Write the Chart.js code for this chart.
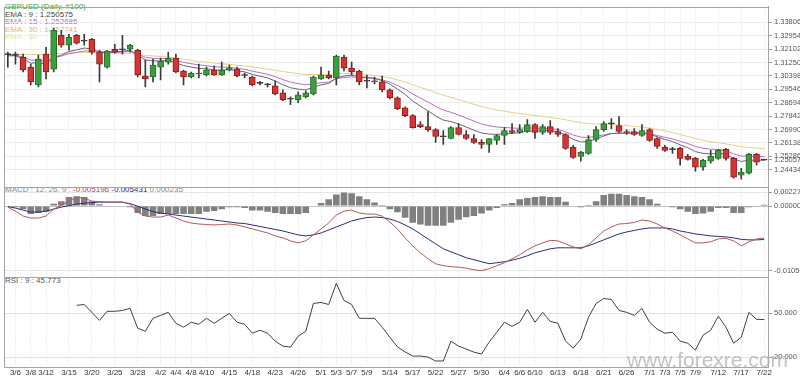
<!DOCTYPE html>
<html>
<head>
<meta charset="utf-8">
<script src="https://cdn.jsdelivr.net/npm/chart.js@4.4.0/dist/chart.umd.min.js"></script>
<style>
  html, body { margin: 0; padding: 0; background: #fff; }
  #wrap { position: relative; width: 800px; height: 378px; overflow: hidden; font-family: "Liberation Sans", Arial, sans-serif; }
  #chart { position: absolute; left: 0; top: 0; z-index: 1; }
  .legend { position: absolute; left: 5px; z-index: 0; font-size: 8px; line-height: 7.6px; white-space: nowrap; }
  .watermark { position: absolute; left: 627px; top: 349px; z-index: 2; font-size: 21px; line-height: 21px; color: rgba(175,175,175,0.75); font-family: "Liberation Sans", Arial, sans-serif; }
</style>
</head>
<body>
<div id="wrap">
  <div class="legend" style="top:3px">
    <div style="color:#3f9d3f">GBPUSD (Daily, #100)</div>
    <div style="color:#444">EMA : 9 : 1.250575</div>
    <div style="color:#b465c9">EMA : 15 : 1.252686</div>
    <div style="color:#e2b46e">EMA : 30 : 1.257741</div>
    <div style="color:#ece3a2">EMA : 30</div>
  </div>
  <div class="legend" style="top:186px; color:#888">MACD : 12, 26, 9 : <span style="color:#b04848">-0.005196</span> <span style="color:#2a2a70">-0.005431</span> 0.000235</div>
  <div class="legend" style="top:277px; color:#555">RSI : 9 : 45.773</div>
  <canvas id="chart" width="800" height="378"></canvas>
  <div class="watermark">www.forexre.com</div>
</div>
<script>
const days = [
  "3/5","3/6","3/7","3/8","3/11","3/12","3/13","3/14","3/15","3/18","3/19","3/20","3/21","3/22","3/25","3/26","3/27","3/28","3/29",
  "4/1","4/2","4/3","4/4","4/5","4/8","4/9","4/10","4/11","4/12","4/15","4/16","4/17","4/18","4/19","4/22","4/23","4/24","4/25","4/26","4/29","4/30",
  "5/1","5/2","5/3","5/6","5/7","5/8","5/9","5/10","5/13","5/14","5/15","5/16","5/17","5/20","5/21","5/22","5/23","5/24","5/27","5/28","5/29","5/30","5/31",
  "6/3","6/4","6/5","6/6","6/7","6/10","6/11","6/12","6/13","6/14","6/17","6/18","6/19","6/20","6/21","6/24","6/25","6/26","6/27","6/28",
  "7/1","7/2","7/3","7/4","7/5","7/8","7/9","7/10","7/11","7/12","7/15","7/16","7/17","7/18","7/19","7/22"
];
const shownDays = ["3/6","3/8","3/12","3/15","3/20","3/25","3/28","4/2","4/4","4/8","4/10","4/15","4/18","4/23","4/26",
  "5/1","5/3","5/7","5/9","5/14","5/17","5/22","5/27","5/30","6/4","6/6","6/10","6/13","6/18","6/21","6/26",
  "7/1","7/3","7/5","7/9","7/12","7/17","7/22"];

const open = [
  1.31787,1.31724,1.31598,1.30967,1.29831,1.31787,1.30840,1.32986,1.32355,1.32986,
  1.32607,1.32733,1.31913,1.30967,1.32102,1.32071,1.32102,1.32039,1.30399,1.30336,
  1.30967,1.31282,1.31534,1.30714,1.30336,1.30588,1.30462,1.30777,1.30462,1.30777,
  1.30840,1.30462,1.30336,1.29925,1.29862,1.29768,1.29326,1.28947,1.28884,1.29074,
  1.29263,1.30209,1.30462,1.30272,1.31598,1.30903,1.30714,1.30083,1.30083,1.30020,
  1.29515,1.29010,1.28379,1.27875,1.27307,1.27181,1.26991,1.26550,1.26423,1.27117,
  1.26676,1.26423,1.26171,1.26045,1.26297,1.26613,1.26928,1.26802,1.26865,1.27307,
  1.26802,1.27181,1.26865,1.26676,1.25855,1.25288,1.25477,1.26360,1.26991,1.27370,
  1.27244,1.26865,1.26865,1.26613,1.26991,1.26423,1.25855,1.25729,1.25792,1.25288,
  1.25161,1.24593,1.24972,1.25161,1.25729,1.25161,1.24089,1.24215,1.25414,1.25050
];
const high = [
  1.31913,1.31913,1.31787,1.31156,1.31724,1.32229,1.33427,1.33301,1.33049,1.33049,
  1.33049,1.32796,1.32039,1.32039,1.32418,1.32986,1.32418,1.32102,1.31408,1.31471,
  1.31534,1.31913,1.31787,1.30777,1.30651,1.31156,1.30967,1.31030,1.31282,1.31093,
  1.30967,1.30588,1.30399,1.30052,1.29925,1.30083,1.29515,1.29074,1.29389,1.29452,
  1.30399,1.30967,1.30714,1.31724,1.31724,1.31282,1.30777,1.30462,1.30336,1.30399,
  1.29578,1.29074,1.28443,1.27938,1.27496,1.28127,1.27054,1.26928,1.27181,1.27370,
  1.26928,1.26676,1.26360,1.26423,1.26676,1.27117,1.27370,1.27307,1.27622,1.27370,
  1.27307,1.27559,1.27054,1.26739,1.25982,1.25603,1.26613,1.27181,1.27496,1.27685,
  1.27812,1.26991,1.27054,1.27307,1.27054,1.26486,1.25982,1.25855,1.25855,1.25414,
  1.25224,1.25098,1.25666,1.25729,1.25792,1.25224,1.24530,1.25477,1.25477,1.25080
];
const low = [
  1.30967,1.31156,1.30651,1.29831,1.29705,1.30209,1.30651,1.32229,1.32039,1.32418,
  1.32355,1.31787,1.30020,1.30903,1.31850,1.31787,1.31913,1.30336,1.29705,1.30020,
  1.30146,1.31156,1.30588,1.29831,1.30272,1.30272,1.30399,1.30430,1.30430,1.30714,
  1.30336,1.30272,1.29768,1.29831,1.29705,1.29200,1.28821,1.28569,1.28695,1.29010,
  1.29200,1.30178,1.30209,1.29831,1.30714,1.30462,1.29831,1.29641,1.29894,1.29389,
  1.28947,1.28253,1.27812,1.27086,1.27117,1.26865,1.26171,1.26045,1.26392,1.26644,
  1.26360,1.26108,1.25792,1.25540,1.26045,1.26045,1.26739,1.26739,1.26802,1.26423,
  1.26676,1.26676,1.26550,1.25729,1.25161,1.24972,1.25414,1.26234,1.26865,1.27054,
  1.26802,1.26676,1.26613,1.26550,1.26234,1.25792,1.25603,1.25477,1.24720,1.25035,
  1.24341,1.24404,1.24846,1.25098,1.25035,1.23899,1.23836,1.24152,1.24720,1.25035
];
const close = [
  1.31755,1.31730,1.30777,1.30020,1.31471,1.30651,1.33301,1.32355,1.32860,1.32481,
  1.32639,1.31913,1.31156,1.31976,1.31913,1.32102,1.32355,1.30462,1.30209,1.31093,
  1.31345,1.31534,1.30651,1.30336,1.30588,1.30525,1.30777,1.30462,1.30777,1.30903,
  1.30399,1.30430,1.29831,1.29957,1.29831,1.29263,1.28884,1.28916,1.29200,1.29326,
  1.30336,1.30462,1.30272,1.31661,1.30903,1.30651,1.30020,1.30064,1.30020,1.29515,
  1.29010,1.28316,1.27875,1.27117,1.27181,1.26991,1.26550,1.26531,1.27117,1.26676,
  1.26423,1.26171,1.26045,1.26423,1.26613,1.26928,1.26802,1.26991,1.27307,1.26802,
  1.27181,1.26802,1.26676,1.25792,1.25224,1.25540,1.26360,1.26991,1.27370,1.27351,
  1.26865,1.26802,1.26676,1.26928,1.26297,1.25919,1.25666,1.25710,1.25161,1.25098,
  1.24593,1.25035,1.25288,1.25666,1.25161,1.23962,1.24278,1.25414,1.24909,1.25058
];

const ema9 = [
  1.31680,1.31688,1.31506,1.31209,1.31261,1.31139,1.31572,1.31728,1.31955,1.32060,
  1.32176,1.32123,1.31929,1.31939,1.31934,1.31967,1.32045,1.31728,1.31425,1.31358,
  1.31356,1.31392,1.31244,1.31062,1.30967,1.30879,1.30859,1.30779,1.30778,1.30804,
  1.30723,1.30664,1.30498,1.30390,1.30278,1.30075,1.29837,1.29653,1.29562,1.29515,
  1.29679,1.29835,1.29923,1.30271,1.30397,1.30448,1.30362,1.30303,1.30246,1.30100,
  1.29882,1.29569,1.29230,1.28807,1.28482,1.28184,1.27857,1.27592,1.27497,1.27333,
  1.27152,1.26955,1.26773,1.26703,1.26685,1.26733,1.26747,1.26796,1.26898,1.26879,
  1.26940,1.26912,1.26864,1.26650,1.26365,1.26200,1.26232,1.26384,1.26581,1.26735,
  1.26761,1.26769,1.26750,1.26786,1.26688,1.26534,1.26360,1.26230,1.26016,1.25833,
  1.25585,1.25475,1.25438,1.25483,1.25419,1.25127,1.24958,1.25049,1.25021,1.250575
];
const ema15 = [
  1.31727,1.31727,1.31608,1.31409,1.31417,1.31321,1.31568,1.31667,1.31816,1.31899,
  1.31992,1.31982,1.31878,1.31890,1.31893,1.31919,1.31974,1.31784,1.31587,1.31526,
  1.31503,1.31507,1.31400,1.31267,1.31182,1.31100,1.31059,1.30985,1.30959,1.30952,
  1.30883,1.30826,1.30702,1.30608,1.30511,1.30355,1.30171,1.30014,1.29913,1.29840,
  1.29901,1.29971,1.30009,1.30216,1.30301,1.30345,1.30305,1.30275,1.30243,1.30152,
  1.30009,1.29798,1.29558,1.29253,1.28993,1.28743,1.28469,1.28227,1.28088,1.27911,
  1.27725,1.27531,1.27345,1.27230,1.27153,1.27124,1.27084,1.27073,1.27102,1.27064,
  1.27079,1.27044,1.26998,1.26847,1.26645,1.26507,1.26488,1.26551,1.26654,1.26741,
  1.26757,1.26762,1.26751,1.26774,1.26714,1.26615,1.26496,1.26397,1.26243,1.26100,
  1.25912,1.25802,1.25737,1.25729,1.25658,1.25446,1.25300,1.25314,1.25264,1.252686
];
const ema30 = [
  1.31755,1.31768,1.31774,1.31768,1.31768,1.31774,1.31812,1.31837,1.31863,1.31881,
  1.31894,1.31894,1.31875,1.31869,1.31863,1.31850,1.31831,1.31774,1.31717,1.31673,
  1.31635,1.31598,1.31535,1.31459,1.31389,1.31326,1.31269,1.31219,1.31175,1.31137,
  1.31086,1.31042,1.30979,1.30910,1.30840,1.30765,1.30683,1.30607,1.30544,1.30493,
  1.30487,1.30487,1.30487,1.30537,1.30556,1.30556,1.30512,1.30468,1.30424,1.30361,
  1.30272,1.30152,1.30020,1.29843,1.29673,1.29515,1.29345,1.29174,1.29042,1.28897,
  1.28752,1.28600,1.28455,1.28335,1.28234,1.28152,1.28077,1.28007,1.27950,1.27881,
  1.27824,1.27755,1.27698,1.27616,1.27515,1.27427,1.27370,1.27345,1.27338,1.27319,
  1.27275,1.27244,1.27193,1.27149,1.27086,1.27004,1.26909,1.26802,1.26676,1.26550,
  1.26423,1.26310,1.26222,1.26152,1.26077,1.25982,1.25900,1.25856,1.25805,1.25774
];

const macdHist = [
  0,-0.0002,-0.0005,-0.0013,-0.0011,-0.0009,0.0004,0.0008,0.0015,0.0016,
  0.0015,0.0008,0.0003,0.0001,0,0,-0.0002,-0.0011,-0.0016,-0.0016,
  -0.0013,-0.0013,-0.0013,-0.0013,-0.0013,-0.0013,-0.0009,-0.0008,-0.0005,-0.0002,
  -0.0002,-0.0003,-0.0007,-0.0007,-0.0009,-0.0011,-0.0013,-0.0013,-0.0013,-0.0011,
  0,0.0005,0.0011,0.0019,0.0022,0.0021,0.0016,0.0011,0.0006,0.0002,
  -0.0005,-0.0010,-0.0019,-0.0027,-0.0030,-0.0032,-0.0032,-0.0032,-0.0027,-0.0022,
  -0.0018,-0.0016,-0.0012,-0.0007,-0.0003,0.0003,0.0005,0.0011,0.0013,0.0015,
  0.0016,0.0015,0.0015,0.0007,0,-0.0002,0.0002,0.0008,0.0018,0.0020,
  0.0020,0.0018,0.0016,0.0015,0.0011,0.0004,0,-0.0002,-0.0005,-0.0009,
  -0.0013,-0.0012,-0.0009,-0.0003,-0.0003,-0.0011,-0.0011,-0.0002,-0.0001,0.000235
];
const macdLine = [
  -0.00016,-0.00081,-0.00162,-0.00194,-0.00194,-0.00162,-0.00048,0.00016,0.00081,0.00145,
  0.00129,0.00081,0.00073,0.00065,0.00065,0.00065,0.00032,-0.00097,-0.00162,-0.00178,
  -0.00178,-0.00145,-0.00194,-0.00242,-0.00275,-0.00291,-0.00299,-0.00307,-0.00299,-0.00291,
  -0.00307,-0.00339,-0.00371,-0.00404,-0.00436,-0.00485,-0.00517,-0.00565,-0.00598,-0.00565,
  -0.00468,-0.00371,-0.00275,-0.00145,-0.00081,-0.00065,-0.00113,-0.00129,-0.00129,-0.00162,
  -0.00258,-0.00371,-0.00517,-0.00646,-0.00759,-0.00856,-0.00937,-0.00969,-0.00985,-0.00993,
  -0.01009,-0.01034,-0.01050,-0.01017,-0.00969,-0.00921,-0.00856,-0.00791,-0.00711,-0.00646,
  -0.00598,-0.00557,-0.00565,-0.00614,-0.00662,-0.00694,-0.00630,-0.00517,-0.00404,-0.00339,
  -0.00291,-0.00283,-0.00266,-0.00226,-0.00242,-0.00291,-0.00355,-0.00404,-0.00468,-0.00533,
  -0.00598,-0.00598,-0.00581,-0.00533,-0.00525,-0.00565,-0.00646,-0.00581,-0.00533,-0.005196
];
const macdSignal = [
  -0.00008,-0.00032,-0.00065,-0.00097,-0.00097,-0.00081,-0.00048,-0.00016,0.00008,0.00032,
  0.00048,0.00057,0.00065,0.00065,0.00065,0.00065,0.00040,0,-0.00048,-0.00089,
  -0.00113,-0.00129,-0.00145,-0.00162,-0.00178,-0.00194,-0.00210,-0.00226,-0.00242,-0.00258,
  -0.00275,-0.00283,-0.00307,-0.00331,-0.00355,-0.00380,-0.00404,-0.00436,-0.00468,-0.00485,
  -0.00468,-0.00436,-0.00388,-0.00339,-0.00291,-0.00242,-0.00210,-0.00186,-0.00178,-0.00186,
  -0.00210,-0.00250,-0.00307,-0.00371,-0.00452,-0.00533,-0.00614,-0.00694,-0.00743,-0.00791,
  -0.00840,-0.00872,-0.00904,-0.00937,-0.00921,-0.00904,-0.00880,-0.00848,-0.00808,-0.00759,
  -0.00727,-0.00694,-0.00678,-0.00678,-0.00678,-0.00678,-0.00646,-0.00598,-0.00549,-0.00501,
  -0.00452,-0.00420,-0.00396,-0.00371,-0.00355,-0.00355,-0.00355,-0.00371,-0.00404,-0.00428,
  -0.00452,-0.00468,-0.00485,-0.00493,-0.00501,-0.00517,-0.00541,-0.00549,-0.00549,-0.005431
];

const rsi9 = [
  null,null,null,null,null,null,null,null,null,55.5,
  56.1,50.7,45.2,51.4,51.4,52.0,53.4,39.8,37.7,46.6,
  48.6,50.7,43.2,40.5,43.9,42.5,46.6,43.2,46.6,50.0,
  43.9,42.5,36.4,38.4,36.4,30.9,27.5,26.8,34.3,37.7,
  56.8,57.5,56.1,70.5,58.9,56.1,46.6,46.6,46.6,40.5,
  33.6,27.0,23.5,20.7,20.7,20.0,17.3,17.3,30.9,27.5,
  25.5,23.4,22.1,30.2,37.0,43.9,41.1,43.9,52.7,43.9,
  50.7,44.5,43.2,30.9,26.1,32.3,47.3,56.8,60.2,59.5,
  52.0,50.7,48.6,53.4,43.9,39.1,36.4,37.0,30.9,29.5,
  24.8,35.0,38.4,48.0,40.5,29.5,33.6,50.7,45.9,45.773
];

const priceTicks = [1.33806,1.32954,1.32102,1.31250,1.30398,1.29546,1.28694,1.27842,1.26990,1.26138,1.25286,1.24434];
const macdTicks = [0.002279, 0, -0.0105];
const rsiTicks = [50, 20];

const lastEma9 = ema9[ema9.length - 1];

const UP = "#3e9e3e", UP_EDGE = "#22702a";
const DOWN = "#d73333", DOWN_EDGE = "#8c1c1c";
const DOJI = "#333333";

function candleColor(i, edge) {
  const d = close[i] - open[i];
  if (Math.abs(d) < 0.0004) return DOJI;
  if (d > 0) return edge ? UP_EDGE : UP;
  return edge ? DOWN_EDGE : DOWN;
}

function fixWidth(scale) { scale.width = 32; }

const panelFrame = {
  id: "panelFrame",
  afterDatasetsDraw(chart) {
    const { ctx, chartArea: a, scales } = chart;
    ctx.save();
    ctx.strokeStyle = "#a4a4a4";
    ctx.lineWidth = 1;
    ctx.strokeRect(Math.round(a.left) + 0.5, Math.round(a.top) + 0.5, Math.round(a.right - a.left), Math.round(a.bottom - a.top));
    [scales.macd.top, scales.rsi.top].forEach((y) => {
      const yy = Math.round(y) + 0.5;
      ctx.beginPath();
      ctx.moveTo(a.left, yy);
      ctx.lineTo(a.right, yy);
      ctx.stroke();
    });
    ctx.restore();
  }
};

Chart.defaults.font.family = '"Liberation Sans", Arial, sans-serif';
Chart.defaults.font.size = 8;

const axisTickFont = { size: 7.5 };

new Chart(document.getElementById("chart"), {
  data: {
    labels: days,
    datasets: [
      {
        type: "line", label: "EMA 30", data: ema30, yAxisID: "price",
        borderColor: "#e6d089", borderWidth: 1, pointRadius: 0, order: 5
      },
      {
        type: "line", label: "EMA 15", data: ema15, yAxisID: "price",
        borderColor: "#b36fc9", borderWidth: 1, pointRadius: 0, order: 4
      },
      {
        type: "line", label: "EMA 9", data: ema9, yAxisID: "price",
        borderColor: "#666874", borderWidth: 1, pointRadius: 0, order: 3
      },
      {
        type: "bar", label: "wick", yAxisID: "price",
        data: low.map((l, i) => [l, high[i]]),
        backgroundColor: "#3a3a3a", barThickness: 1, grouped: false, order: 2
      },
      {
        type: "bar", label: "body", yAxisID: "price",
        data: open.map((o, i) => [o, close[i]]),
        backgroundColor: open.map((o, i) => candleColor(i, false)),
        borderColor: open.map((o, i) => candleColor(i, true)),
        borderWidth: 1, borderSkipped: false, barThickness: 6, minBarLength: 1,
        grouped: false, order: 1
      },
      {
        type: "bar", label: "MACD hist", yAxisID: "macd", data: macdHist,
        backgroundColor: "#808080", barPercentage: 0.86, categoryPercentage: 1,
        grouped: false, order: 3
      },
      {
        type: "line", label: "Signal", data: macdSignal, yAxisID: "macd",
        borderColor: "#2c2c78", borderWidth: 1, pointRadius: 0, order: 1
      },
      {
        type: "line", label: "MACD", data: macdLine, yAxisID: "macd",
        borderColor: "#b05a5a", borderWidth: 1, pointRadius: 0, order: 0
      },
      {
        type: "line", label: "RSI", data: rsi9, yAxisID: "rsi",
        borderColor: "#404040", borderWidth: 1, pointRadius: 0, order: 0
      }
    ]
  },
  options: {
    responsive: false,
    animation: false,
    devicePixelRatio: 1,
    layout: { padding: { left: 4, top: 4, right: 0, bottom: 0 } },
    plugins: { legend: { display: false }, tooltip: { enabled: false } },
    scales: {
      x: {
        type: "category",
        offset: true,
        grid: {
          offset: false,
          drawTicks: false,
          color: (ctx) => (shownDays.includes(days[ctx.index]) ? "#dcdcdc" : "rgba(0,0,0,0)")
        },
        border: { display: false, dash: [1, 2] },
        ticks: {
          autoSkip: false, maxRotation: 0, padding: 2, color: "#333", font: { size: 8 },
          callback: (v, i) => (shownDays.includes(days[i]) ? days[i] : "")
        },
        afterFit: (s) => { s.height = 12; }
      },
      price: {
        type: "linear", position: "right", stack: "panels", stackWeight: 182,
        min: 1.2332, max: 1.3482,
        afterBuildTicks: (s) => { s.ticks = priceTicks.concat([lastEma9]).map((v) => ({ value: v })); },
        afterFit: fixWidth,
        grid: {
          color: (ctx) => (ctx.tick && ctx.tick.value === lastEma9 ? "rgba(0,0,0,0)" : "#ececec"),
          tickColor: "#999", tickLength: 4
        },
        border: { color: "#999" },
        ticks: {
          autoSkip: false, padding: 2, color: "#555", font: axisTickFont,
          callback: (v) => (v === lastEma9 ? v.toFixed(6) : v.toFixed(5))
        }
      },
      macd: {
        type: "linear", position: "right", stack: "panels", stackWeight: 90,
        min: -0.011467, max: 0.003069,
        afterBuildTicks: (s) => { s.ticks = macdTicks.map((v) => ({ value: v })); },
        afterFit: fixWidth,
        grid: {
          color: (ctx) => (ctx.tick && ctx.tick.value === 0 ? "#c4c4c4" : "#e6e6e6"),
          tickColor: "#999", tickLength: 4
        },
        border: { color: "#999" },
        ticks: { autoSkip: false, padding: 2, color: "#555", font: axisTickFont, callback: (v) => v.toFixed(6) }
      },
      rsi: {
        type: "linear", position: "right", stack: "panels", stackWeight: 90,
        min: 13.86, max: 75.23,
        afterBuildTicks: (s) => { s.ticks = rsiTicks.map((v) => ({ value: v })); },
        afterFit: fixWidth,
        grid: { color: "#e2e2e2", tickColor: "#999", tickLength: 4 },
        border: { color: "#999" },
        ticks: { autoSkip: false, padding: 2, color: "#555", font: axisTickFont, callback: (v) => v.toFixed(3) }
      }
    }
  },
  plugins: [panelFrame]
});
</script>
</body>
</html>
